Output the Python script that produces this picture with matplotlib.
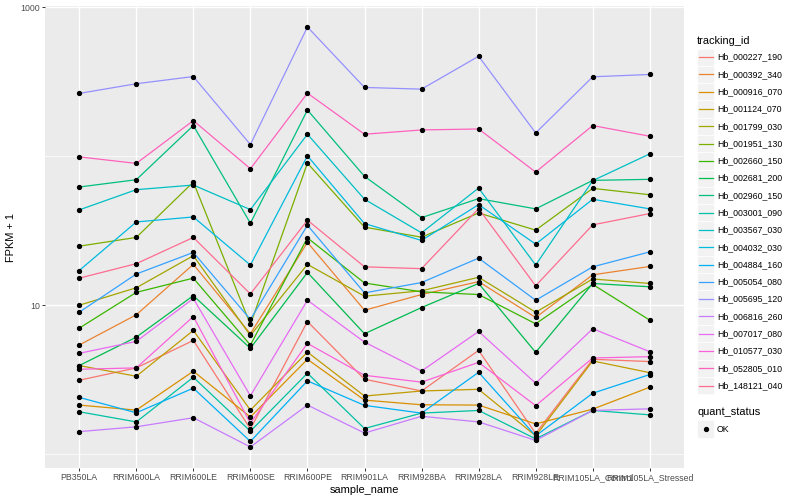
import numpy as np
import matplotlib
matplotlib.use("Agg")
import matplotlib.pyplot as plt
from matplotlib.patches import Rectangle
from matplotlib.lines import Line2D

plt.rcParams["font.family"] = ["Liberation Sans", "DejaVu Sans"]

samples = ["PB350LA", "RRIM600LA", "RRIM600LE", "RRIM600SE", "RRIM600PE",
           "RRIM901LA", "RRIM928BA", "RRIM928LA", "RRIM928LE",
           "RRIM105LA_Control", "RRIM105LA_Stressed"]

tracking_ids = ["Hb_000227_190", "Hb_000392_340", "Hb_000916_070", "Hb_001124_070",
                "Hb_001799_030", "Hb_001951_130", "Hb_002660_150", "Hb_002681_200",
                "Hb_002960_150", "Hb_003001_090", "Hb_003567_030", "Hb_004032_030",
                "Hb_004884_160", "Hb_005054_080", "Hb_005695_120", "Hb_006816_260",
                "Hb_007017_080", "Hb_010577_030", "Hb_052805_010", "Hb_148121_040"]

# FPKM + 1 per sample
Hb_000227_190 = [3.14, 3.80, 5.81, 1.48, 7.78, 3.19, 2.66, 4.98, 1.38, 4.34, 4.19]
Hb_000392_340 = [5.41, 8.63, 18.8, 6.44, 26.4, 9.26, 11.8, 14.4, 8.28, 16.0, 18.2]
Hb_000916_070 = [2.14, 1.98, 3.61, 1.78, 4.34, 2.31, 2.15, 2.14, 1.60, 2.01, 2.82]
Hb_001124_070 = [3.94, 3.34, 6.78, 1.98, 4.85, 2.46, 2.66, 2.73, 1.33, 4.23, 3.53]
Hb_001799_030 = [10.0, 13.1, 21.5, 6.27, 18.8, 11.5, 12.5, 15.4, 8.98, 15.0, 14.0]
Hb_001951_130 = [24.9, 28.5, 67.0, 7.43, 89.8, 33.4, 28.6, 41.6, 31.9, 60.8, 55.1]
Hb_002660_150 = [7.02, 12.2, 15.2, 5.41, 28.3, 14.1, 12.3, 11.8, 7.51, 13.8, 7.94]
Hb_002681_200 = [3.94, 6.11, 11.6, 5.14, 16.6, 6.44, 9.65, 14.0, 4.83, 14.0, 13.3]
Hb_002960_150 = [62.1, 69.5, 160.4, 35.5, 203.9, 73.2, 38.7, 51.9, 44.3, 68.8, 69.9]
Hb_003001_090 = [1.93, 1.65, 3.29, 1.43, 3.50, 1.49, 1.89, 1.97, 1.27, 1.97, 1.84]
Hb_003567_030 = [43.6, 59.6, 64.0, 43.8, 140.3, 51.4, 30.6, 61.1, 18.6, 68.5, 103.6]
Hb_004032_030 = [17.1, 36.2, 39.1, 18.6, 100.5, 35.3, 27.2, 47.3, 25.7, 51.4, 44.3]
Hb_004884_160 = [2.41, 1.90, 2.78, 1.22, 3.11, 2.13, 1.89, 3.55, 1.33, 2.57, 3.43]
Hb_005054_080 = [8.98, 16.2, 22.6, 8.03, 34.4, 12.1, 14.2, 20.7, 10.8, 18.1, 22.8]
Hb_005695_120 = [263.5, 306.0, 342.0, 119.7, 735.0, 289.0, 281.5, 467.7, 143.1, 340.7, 353.0]
Hb_006816_260 = [1.42, 1.53, 1.76, 1.12, 2.14, 1.39, 1.80, 1.65, 1.24, 1.97, 2.02]
Hb_007017_080 = [4.76, 5.72, 11.1, 2.47, 10.8, 5.66, 3.62, 6.67, 3.00, 6.96, 4.88]
Hb_010577_030 = [3.72, 3.80, 8.40, 1.62, 5.55, 3.39, 3.05, 4.14, 2.12, 4.43, 4.52]
Hb_052805_010 = [98.9, 89.4, 173.2, 82.3, 264.7, 140.3, 149.9, 152.2, 78.2, 160.4, 136.0]
Hb_148121_040 = [15.2, 19.0, 28.5, 11.9, 37.2, 18.1, 17.6, 44.5, 13.5, 34.6, 41.2]

series = [Hb_000227_190, Hb_000392_340, Hb_000916_070, Hb_001124_070, Hb_001799_030,
          Hb_001951_130, Hb_002660_150, Hb_002681_200, Hb_002960_150, Hb_003001_090,
          Hb_003567_030, Hb_004032_030, Hb_004884_160, Hb_005054_080, Hb_005695_120,
          Hb_006816_260, Hb_007017_080, Hb_010577_030, Hb_052805_010, Hb_148121_040]

colors = ["#F8766D", "#EA8331", "#D89000", "#C09B00", "#A3A500", "#7CAE00", "#39B600",
          "#00BB4E", "#00BF7D", "#00C1A3", "#00BFC4", "#00BAE0", "#00B0F6", "#35A2FF",
          "#9590FF", "#C77CFF", "#E76BF3", "#FA62DB", "#FF62BC", "#FF6C91"]

W, H = 800, 500
fig = plt.figure(figsize=(8, 5), dpi=100)
fig.patch.set_facecolor("white")

L, R, T, B = 45, 684, 6, 468
ax = fig.add_axes([L / W, 1 - B / H, (R - L) / W, (B - T) / H])
ax.set_facecolor("#EBEBEB")
for s in ax.spines.values():
    s.set_visible(False)

x = np.arange(len(samples))
ax.set_yscale("log")

# grid
for xi in x:
    ax.axvline(xi, color="white", lw=1.0, zorder=0)
for yv in [10, 1000]:
    ax.axhline(yv, color="white", lw=1.0, zorder=0)
for yv in [1, 100]:
    ax.axhline(yv, color="white", lw=0.5, zorder=0)

for vals, c in zip(series, colors):
    ax.plot(x, vals, color=c, lw=0.9, zorder=2, solid_capstyle="butt")
for vals in series:
    ax.plot(x, vals, ls="none", marker="o", ms=2.8, color="black", zorder=3)

allv = np.log10(np.concatenate([np.array(v) for v in series]))
lo, hi = allv.min(), allv.max()
pad = 0.05 * (hi - lo)
ax.set_ylim(10 ** (lo - pad), 10 ** (hi + pad))
ax.set_xlim(-0.6, len(samples) - 0.4)

ax.set_yticks([10, 1000])
ax.set_yticklabels(["10", "1000"])
ax.yaxis.set_minor_locator(matplotlib.ticker.NullLocator())
ax.set_xticks(x)
ax.set_xticklabels(samples)
ax.tick_params(axis="both", which="major", length=2.0, width=0.7, color="#333333",
               labelcolor="#4D4D4D", labelsize=6.3, pad=1.6)

ax.set_xlabel("sample_name", fontsize=7.9, color="black", labelpad=2)
ax.set_ylabel("FPKM + 1", fontsize=7.9, color="black", labelpad=3)

# legend: tracking_id
def fx(px):
    return px / W

def fy(py):
    return 1 - py / H

kx0, kw = 697, 17.28
fig.text(fx(kx0), fy(40.7), "tracking_id", fontsize=7.9, va="center", ha="left")
for i, (tid, c) in enumerate(zip(tracking_ids, colors)):
    cy = 57.2 + 17.28 * i
    fig.patches.append(Rectangle((fx(kx0), fy(cy + kw / 2)), kw / W, kw / H,
                                 transform=fig.transFigure, facecolor="#F2F2F2",
                                 edgecolor="white", lw=0.5))
    fig.lines.append(Line2D([fx(kx0 + 1.7), fx(kx0 + kw - 1.7)], [fy(cy), fy(cy)],
                            transform=fig.transFigure, color=c, lw=0.9))
    fig.text(fx(717), fy(cy), tid, fontsize=6.3, va="center", ha="left")

# legend: quant_status
fig.text(fx(kx0), fy(412), "quant_status", fontsize=7.9, va="center", ha="left")
cy = 429
fig.patches.append(Rectangle((fx(kx0), fy(cy + kw / 2)), kw / W, kw / H,
                             transform=fig.transFigure, facecolor="#F2F2F2",
                             edgecolor="white", lw=0.5))
fig.lines.append(Line2D([fx(kx0 + kw / 2)], [fy(cy)], transform=fig.transFigure,
                        ls="none", marker="o", ms=2.8, color="black"))
fig.text(fx(717), fy(cy), "OK", fontsize=6.3, va="center", ha="left")

fig.savefig("out.png", dpi=100)
